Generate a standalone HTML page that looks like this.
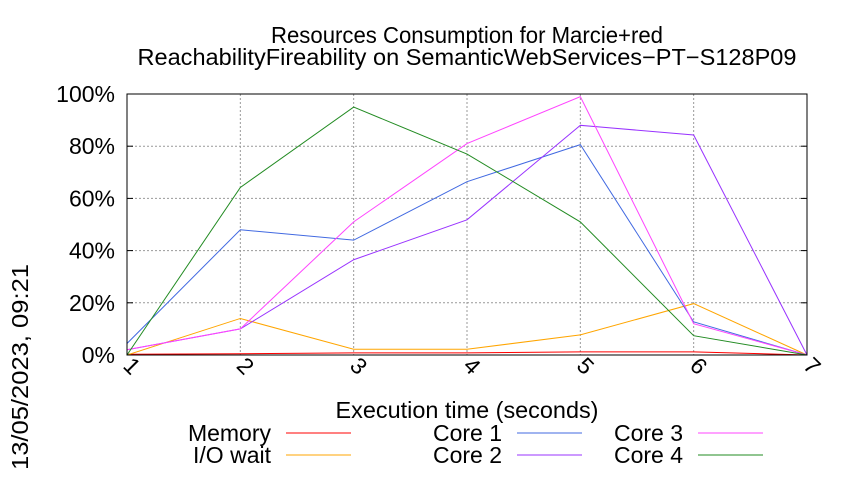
<!DOCTYPE html>
<html><head><meta charset="utf-8"><style>
html,body{margin:0;padding:0;background:#fff;}
svg text{font-family:"Liberation Sans",sans-serif;fill:#000;}
</style></head><body>
<svg id="chart" width="850" height="475" xmlns="http://www.w3.org/2000/svg">
<text x="467" y="43" font-size="23" text-anchor="middle" textLength="392" lengthAdjust="spacingAndGlyphs">Resources Consumption for Marcie+red</text>
<text x="467" y="65" font-size="23" text-anchor="middle" textLength="659" lengthAdjust="spacingAndGlyphs">ReachabilityFireability on SemanticWebServices−PT−S128P09</text>
<text x="467" y="418" font-size="23" text-anchor="middle" textLength="263" lengthAdjust="spacingAndGlyphs">Execution time (seconds)</text>
<text x="0" y="0" font-size="23" text-anchor="middle" textLength="206" lengthAdjust="spacingAndGlyphs" transform="translate(28,367) rotate(-90)">13/05/2023, 09:21</text>
<g id="grid"></g><g id="series"></g><g id="axes"></g><g id="legend"></g>
</svg>
<script>
const categories = [1,2,3,4,5,6,7];
const yTicks = [0,20,40,60,80,100];
const memory = [0.3,0.5,0.8,0.8,1.2,1.2,0];
const ioWait = [0,14,2.2,2.2,7.7,19.7,0];
const core1 = [4.4,48,44,66.4,80.6,12.7,0];
const core2 = [2,10,36.5,51.8,88,84.3,0];
const core3 = [2,10,51,81,99,12,0];
const core4 = [0,64.2,95,77,51,7.4,0];
const seriesNames = ["Memory","I/O wait","Core 1","Core 2","Core 3","Core 4"];
const seriesColors = ["#ff0000","#ffa500","#4169e1","#9933ff","#ff44ff","#228b22"];
const seriesData = [memory,ioWait,core1,core2,core3,core4];

const NS="http://www.w3.org/2000/svg";
const L=127,R=807,T=94,B=355;
const xs=v=>L+(v-1)*(R-L)/6;
const ys=v=>B-v*(B-T)/100;
function mk(t,a,p){const e=document.createElementNS(NS,t);for(const k in a)e.setAttribute(k,a[k]);p.appendChild(e);return e;}
const grid=document.getElementById('grid'),axes=document.getElementById('axes'),ser=document.getElementById('series'),leg=document.getElementById('legend');
yTicks.forEach(t=>{
  const g=mk('line',{x1:L,x2:R,y1:ys(t),y2:ys(t),stroke:'#999','stroke-dasharray':'2,2','stroke-width':1},grid);
  
  
  const lb=mk('text',{x:L-12,y:ys(t)+8,'font-size':23,'text-anchor':'end'},axes);
  lb.textContent=t+'%';
  
  
  mk('line',{x1:L,x2:L+6,y1:ys(t),y2:ys(t),stroke:'#000'},axes);
  mk('line',{x1:R-6,x2:R,y1:ys(t),y2:ys(t),stroke:'#000'},axes);
});
categories.forEach(c=>{
  if(c>1&&c<7){const g=mk('line',{x1:xs(c),x2:xs(c),y1:T,y2:B,stroke:'#999','stroke-dasharray':'2,2','stroke-width':1},grid);
  
  }
  const lb=mk('text',{x:0,y:0,'font-size':23,transform:`translate(${xs(c)-5},${B+12}) rotate(45)`},axes);
  lb.textContent=c;
  
  
});
const frame=mk('rect',{x:L,y:T,width:R-L,height:B-T,fill:'none',stroke:'#000','stroke-width':1},axes);


seriesData.forEach((d,i)=>{
  const pl=mk('polyline',{points:d.map((v,j)=>xs(categories[j])+','+ys(v)).join(' '),fill:'none',stroke:seriesColors[i],'stroke-width':1},ser);
  
  
});
const legPos=[[271,441],[271,463],[502,441],[502,463],[683,441],[683,463]];
seriesNames.forEach((n,i)=>{
  const [x,y]=legPos[i];
  const t=mk('text',{x:x,y:y,'font-size':23,'text-anchor':'end'},leg);
  t.textContent=n;
  
  
  const l=mk('line',{x1:x+15,x2:x+80,y1:y-8,y2:y-8,stroke:seriesColors[i],'stroke-width':1},leg);
  
  
});
</script>
</body></html>
